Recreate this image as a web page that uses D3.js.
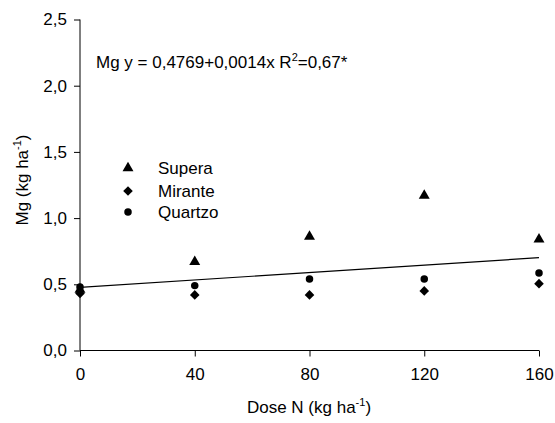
<!DOCTYPE html>
<html><head><meta charset="utf-8">
<script src="https://cdn.jsdelivr.net/npm/d3@7"></script>
<style>body{margin:0;background:#fff}text{font-family:"Liberation Sans",Arial,sans-serif;fill:#000}</style>
</head><body>
<script>
const doses = [0, 40, 80, 120, 160];
const supera = [0.46, 0.67, 0.86, 1.17, 0.84];
const mirante = [0.43, 0.42, 0.42, 0.45, 0.505];
const quartzo = [0.48, 0.49, 0.54, 0.54, 0.585];
const yTicks = [0, 0.5, 1.0, 1.5, 2.0, 2.5];
const xTicks = [0, 40, 80, 120, 160];
const reg = {a: 0.4769, b: 0.0014};
const seriesNames = ["Supera", "Mirante", "Quartzo"];

const W = 555, H = 423;
const FS = 17;
const svg = d3.select("body").append("svg").attr("width", W).attr("height", H);
const x = d3.scaleLinear().domain([0, 160]).range([80, 539]);
const y = d3.scaleLinear().domain([0, 2.5]).range([350.5, 19.5]);
const fmt = d => d.toFixed(1).replace(".", ",");

const ya = svg.append("g").attr("transform", "translate(80,0)")
  .call(d3.axisLeft(y).tickValues(yTicks).tickFormat(fmt).tickSize(6).tickPadding(7));
const xa = svg.append("g").attr("transform", "translate(0,350.5)")
  .call(d3.axisBottom(x).tickValues(xTicks).tickFormat(d3.format("d")).tickSize(6).tickPadding(11));
[ya, xa].forEach(g => {
  g.select(".domain").attr("stroke", "#000").attr("stroke-width", 1);
  g.selectAll(".tick line").attr("stroke", "#000");
  g.selectAll("text").attr("font-size", FS).attr("font-family", "Liberation Sans, Arial, sans-serif");
});
ya.select(".domain").attr("d", "M0,19.5V350.5");
xa.select(".domain").attr("d", "M80,0H539");

// regression line
svg.append("line")
  .attr("x1", x(0)).attr("y1", y(reg.a + reg.b * 0))
  .attr("x2", x(160)).attr("y2", y(reg.a + reg.b * 160))
  .attr("stroke", "#000").attr("stroke-width", 1.2);

const shapes = [d3.symbolTriangle, d3.symbolSquare, d3.symbolCircle];
const sizes = [52, 46, 44];
const rot = [0, 45, 0];
const data = [supera, mirante, quartzo];
data.forEach((vals, i) => {
  svg.append("g").selectAll("path").data(vals).join("path")
    .attr("d", d3.symbol().type(shapes[i]).size(sizes[i]))
    .attr("transform", (d, j) => `translate(${x(doses[j])},${y(d)}) rotate(${rot[i]})`)
    .attr("fill", "#000");
});

// legend
const legY = [168, 191, 212];
seriesNames.forEach((n, i) => {
  svg.append("path").attr("d", d3.symbol().type(shapes[i]).size(sizes[i]))
    .attr("transform", `translate(128,${legY[i]}) rotate(${rot[i]})`).attr("fill", "#000");
  svg.append("text").attr("x", 158).attr("y", legY[i] + 6).attr("font-size", FS).text(n);
});

// equation
const eq = svg.append("text").attr("x", 96).attr("y", 68).attr("font-size", FS);
eq.append("tspan").text("Mg y = 0,4769+0,0014x R");
eq.append("tspan").attr("font-size", 11).attr("dy", -7).text("2");
eq.append("tspan").attr("dy", 7).text("=0,67*");

// axis titles
const yt = svg.append("text").attr("transform", "translate(28,180) rotate(-90)")
  .attr("text-anchor", "middle").attr("font-size", FS);
yt.append("tspan").text("Mg (kg ha");
yt.append("tspan").attr("font-size", 11).attr("dy", -7).text("-1");
yt.append("tspan").attr("dy", 7).text(")");

const xt = svg.append("text").attr("x", 309).attr("y", 413)
  .attr("text-anchor", "middle").attr("font-size", FS);
xt.append("tspan").text("Dose N (kg ha");
xt.append("tspan").attr("font-size", 11).attr("dy", -7).text("-1");
xt.append("tspan").attr("dy", 7).text(")");
</script>
</body></html>
